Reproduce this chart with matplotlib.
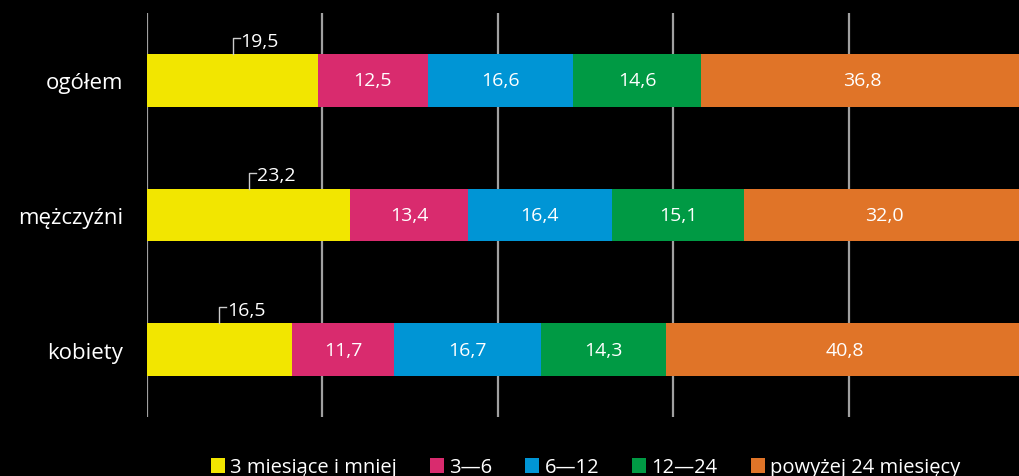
import numpy as np
import matplotlib.pyplot as plt

plt.rcParams['font.family'] = ['Open Sans', 'DejaVu Sans']

# Data
categories = ["ogółem", "mężczyźni", "kobiety"]
series_names = ["3 miesiące i mniej", "3—6", "6—12", "12—24", "powyżej 24 miesięcy"]
v_3 = [19.5, 23.2, 16.5]
v_3_6 = [12.5, 13.4, 11.7]
v_6_12 = [16.6, 16.4, 16.7]
v_12_24 = [14.6, 15.1, 14.3]
v_24 = [36.8, 32.0, 40.8]
colors = ["#f2e600", "#d92b6e", "#0095d5", "#009a44", "#e07428"]

series = [v_3, v_3_6, v_6_12, v_12_24, v_24]

fig = plt.figure(figsize=(10.19, 4.77), dpi=100, facecolor="black")
ax = fig.add_axes([147 / 1019, 59 / 477, 877 / 1019, 404 / 477])
ax.set_facecolor("black")

y = np.arange(len(categories))
h = 0.39
left = np.zeros(len(categories))

# grid lines behind bars
for gx in [0, 20, 40, 60, 80]:
    ax.axvline(gx, color="#a0a0a0", lw=1.6, zorder=0)

for k, (vals, col, name) in enumerate(zip(series, colors, series_names)):
    vals = np.array(vals)
    ax.barh(y, vals, left=left, height=h, color=col, label=name, zorder=2)
    for i in range(len(categories)):
        txt = f"{vals[i]:.1f}".replace(".", ",")
        cx = left[i] + vals[i] / 2
        if k == 0:
            top = y[i] - h / 2
            ax.plot([cx, cx, cx + 0.8], [top, top - 0.12, top - 0.12],
                    color="#cccccc", lw=1, zorder=3)
            ax.text(cx + 0.9, top - 0.1, txt, color="white", fontsize=14,
                    ha="left", va="center")
        else:
            ax.text(cx, y[i], txt, color="white", fontsize=14,
                    ha="center", va="center", zorder=4)
    left = left + vals

ax.set_xlim(0, 100)
ax.set_ylim(2.5, -0.5)
ax.set_yticks(y)
ax.set_yticklabels(categories, color="white", fontsize=16)
ax.tick_params(axis="y", length=0, pad=17)
ax.set_xticks([])
for s in ax.spines.values():
    s.set_visible(False)

leg = ax.legend(loc="center", bbox_to_anchor=(0.5, -0.125), ncol=5, frameon=False,
                fontsize=14.5, handlelength=0.7, handleheight=0.7, handletextpad=0.25,
                columnspacing=1.65, labelcolor="white")

fig.savefig("out.png", dpi=100, facecolor="black")
